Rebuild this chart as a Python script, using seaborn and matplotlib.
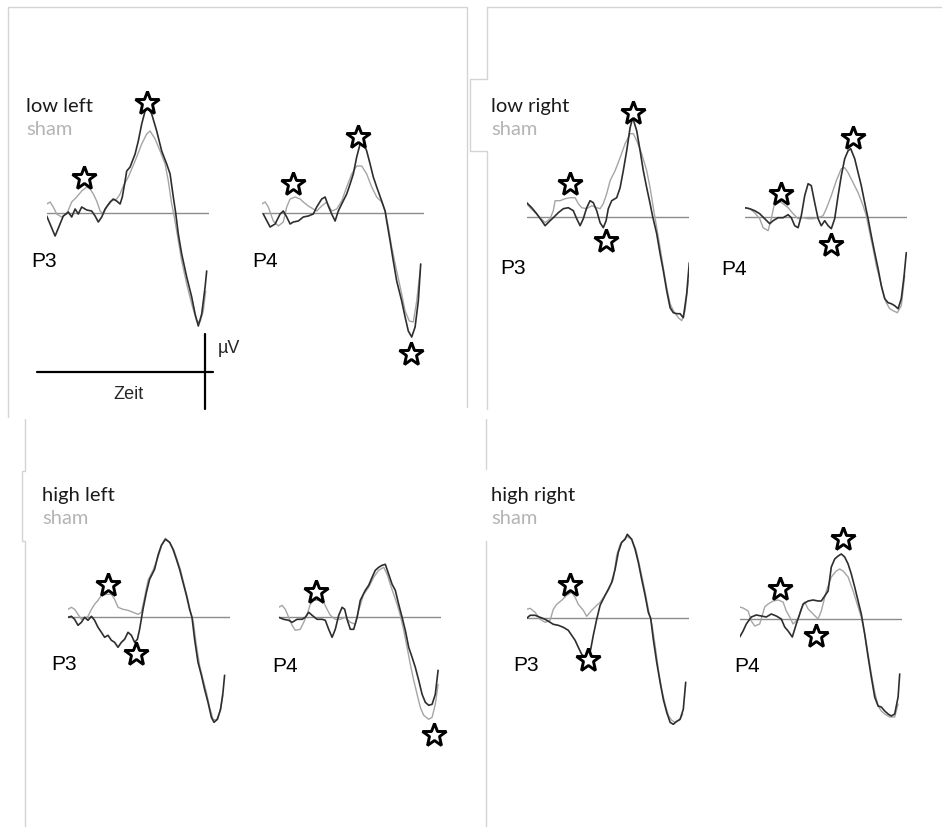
import matplotlib
matplotlib.use("Agg")
import matplotlib.pyplot as plt
import seaborn as sns
import pandas as pd
from matplotlib.lines import Line2D

# ---------------- data (time in ms, amplitude in µV) ----------------
conditions = ["low left", "low right", "high left", "high right"]
channels = ["P3", "P4"]

ll_p3_stim = [(-100,-0.3),(-58,-2.3),(-17,-0.3),(8,0.1),(25,-0.4),(42,0.4),(58,-0.1),(75,0.6),(100,0.3),(125,0.2),
              (142,-0.3),(158,-0.9),(175,-0.4),(192,0.4),(217,1.1),(233,1.4),(250,1.2),(267,0.9),(278,1.6),(292,3.2),
              (300,4.2),(317,4.6),(342,5.9),(358,7.2),(375,8.9),(392,10.2),(405,10.6),(425,9.9),(450,8.2),(475,6.2),
              (500,4.9),(517,3.9),(533,1.6),(545,0.0),(558,-2.1),(575,-4.1),(600,-6.4),(625,-8.4),(642,-10.1),(658,-11.3),
              (675,-10.1),(692,-7.4),(700,-5.8)]
ll_p3_sham = [(-100,0.9),(-83,1.1),(-67,0.6),(-50,-0.1),(-25,-0.4),(0,-0.1),(25,1.1),(50,1.6),(75,2.2),(100,2.6),
              (117,2.4),(133,1.9),(150,1.2),(167,0.2),(183,-0.1),(200,0.6),(225,1.2),(250,1.4),(267,1.9),(283,2.7),
              (308,3.6),(342,5.2),(375,6.9),(400,7.9),(417,8.2),(442,7.4),(467,6.2),(492,4.9),(508,3.2),(525,0.9),
              (538,-0.4),(555,-2.4),(575,-4.8),(600,-7.1),(625,-9.1),(650,-10.8),(667,-10.9),(683,-9.8),(695,-7.8)]
ll_p3_stars = [(88,3.5),(400,11.0)]

ll_p4_stim = [(-92,-0.1),(-58,-1.4),(-33,-1.1),(-8,-0.1),(8,0.2),(25,-0.4),(42,-1.1),(58,-0.9),(83,-0.8),(108,-0.4),
              (133,-0.3),(158,-0.1),(175,0.6),(200,1.4),(217,1.6),(233,0.7),(250,-0.1),(267,-0.8),(283,0.2),(300,0.9),
              (325,1.9),(342,2.9),(358,3.9),(375,5.6),(392,6.9),(408,7.1),(425,6.2),(442,4.9),(458,3.6),(475,2.6),
              (500,1.2),(517,0.2),(525,-0.8),(542,-2.8),(558,-4.8),(575,-6.8),(600,-8.8),(617,-10.4),(633,-11.8),(650,-12.4),
              (667,-11.4),(683,-8.8),(695,-5.1)]
ll_p4_sham = [(-100,0.9),(-83,1.1),(-67,0.6),(-42,-0.8),(-17,-1.3),(8,-0.9),(25,0.6),(42,1.4),(67,1.6),(92,1.4),
              (108,1.1),(133,0.7),(158,0.4),(175,0.2),(200,0.7),(225,1.1),(250,0.2),(275,0.4),(300,1.2),(325,2.6),
              (350,3.9),(375,4.7),(400,4.7),(425,3.9),(450,2.6),(475,1.6),(500,1.1),(517,0.2),(533,-1.4),(550,-3.4),
              (575,-5.8),(600,-8.1),(617,-9.8),(638,-10.8),(658,-10.9),(675,-8.8),(692,-5.8)]
ll_p4_stars = [(58,2.9),(383,7.6),(647,-14.1)]

lr_p3_stim = [(-100,1.4),(-75,0.9),(-50,0.3),(-25,-0.4),(-8,-0.9),(17,-0.4),(33,-0.1),(58,0.4),(83,0.8),(108,0.9),
              (133,0.6),(150,-0.2),(167,-0.9),(183,-0.2),(200,0.9),(217,1.6),(233,1.4),(250,0.6),(267,-0.6),(283,-1.1),
              (297,-0.4),(308,0.8),(325,1.6),(350,1.9),(367,2.9),(383,4.6),(400,6.6),(417,8.9),(430,9.9),(450,8.6),
              (467,6.6),(483,4.6),(500,2.9),(517,1.3),(530,0.0),(550,-1.7),(567,-3.7),(583,-5.4),(600,-7.4),(617,-9.1),
              (633,-9.6),(650,-9.7),(667,-9.7),(683,-10.1),(700,-7.7),(713,-4.6)]
lr_p3_sham = [(-100,1.3),(-83,0.9),(-58,0.4),(-33,-0.1),(-8,-0.6),(17,-0.2),(33,0.6),(42,1.6),(67,1.6),(92,1.8),
              (117,1.9),(142,1.9),(158,1.3),(175,0.9),(200,0.8),(225,1.1),(250,0.9),(267,0.8),(283,1.3),(300,2.3),
              (317,3.6),(342,4.6),(367,5.9),(392,7.3),(417,8.3),(433,8.3),(450,7.6),(475,6.3),(500,4.6),(517,2.9),
              (533,0.9),(550,-1.1),(567,-3.1),(583,-5.1),(600,-7.1),(617,-8.7),(633,-9.4),(658,-10.1),(675,-10.4),(692,-9.4),
              (708,-6.4)]
lr_p3_stars = [(117,3.3),(297,-2.4),(430,10.4)]

lr_p4_stim = [(-100,0.9),(-75,0.8),(-50,0.6),(-25,0.3),(0,-0.2),(25,-0.7),(42,-0.4),(67,-0.1),(92,-0.1),(117,0.2),
              (133,-0.1),(150,-0.9),(167,-1.1),(183,0.1),(200,2.1),(217,3.3),(233,3.1),(250,1.4),(267,-0.2),(283,-0.9),
              (300,-0.4),(317,-0.9),(333,-1.2),(350,-0.2),(367,2.1),(383,4.1),(400,5.8),(417,6.6),(430,6.8),(450,5.8),
              (467,4.4),(483,3.1),(500,1.4),(517,-0.2),(533,-1.9),(550,-3.6),(567,-5.2),(583,-6.9),(600,-8.2),(617,-8.6),
              (633,-8.7),(650,-8.9),(667,-9.2),(683,-8.2),(697,-5.9),(708,-3.6)]
lr_p4_sham = [(-100,0.9),(-75,0.8),(-50,0.4),(-25,-0.2),(-8,-1.1),(17,-1.4),(33,-0.2),(50,1.4),(67,1.6),(92,1.3),
              (117,0.9),(142,0.3),(167,-0.2),(192,-0.1),(217,-0.2),(242,-0.2),(267,-0.1),(292,0.1),(308,0.8),(333,2.1),
              (358,3.6),(383,4.8),(400,4.9),(417,4.4),(442,3.4),(467,2.4),(492,1.1),(508,0.1),(525,-1.6),(542,-3.2),
              (558,-4.9),(575,-6.2),(592,-7.6),(608,-8.6),(625,-9.2),(642,-9.4),(663,-9.6),(683,-8.9),(700,-5.9)]
lr_p4_stars = [(83,2.3),(330,-2.8),(442,7.9)]

hl_p3_stim = [(-100,0.0),(-83,0.1),(-67,-0.2),(-50,-0.8),(-33,-0.5),(-17,0.0),(0,-0.3),(17,0.1),(33,-0.3),(50,-1.0),
              (67,-1.5),(83,-2.0),(100,-1.8),(117,-2.3),(133,-2.5),(150,-3.0),(167,-2.5),(183,-2.2),(200,-1.5),(217,-1.8),
              (233,-2.5),(247,-2.2),(258,-1.2),(275,0.8),(292,2.5),(308,3.8),(333,4.8),(350,6.2),(367,7.2),(387,7.8),
              (408,7.5),(425,6.8),(442,5.8),(458,4.8),(475,3.5),(492,2.2),(508,0.8),(520,0.0),(533,-2.2),(550,-4.5),
              (567,-5.8),(583,-7.2),(600,-8.5),(617,-10.0),(630,-10.5),(647,-10.2),(663,-9.2),(675,-7.5),(683,-5.8)]
hl_p3_sham = [(-100,0.8),(-83,1.0),(-67,0.8),(-50,0.3),(-33,-0.2),(-17,-0.1),(0,0.1),(17,0.8),(33,1.3),(50,1.7),
              (67,2.2),(92,2.3),(117,2.3),(133,1.8),(150,1.0),(175,0.8),(200,0.7),(225,0.5),(250,0.3),(267,0.5),
              (283,2.0),(300,3.7),(325,4.7),(350,6.0),(370,7.3),(387,7.9),(408,7.5),(430,6.7),(447,5.7),(463,4.7),
              (480,3.3),(497,2.0),(513,0.5),(527,-0.5),(542,-2.8),(558,-4.8),(575,-6.2),(592,-7.5),(608,-9.0),(625,-10.2),
              (642,-10.3),(658,-9.5),(675,-7.8)]
hl_p3_stars = [(100,3.2),(242,-3.7)]

hl_p4_stim = [(-100,0.0),(-75,-0.2),(-50,-0.3),(-33,-0.5),(-8,-0.2),(17,-0.2),(33,0.0),(50,0.5),(67,0.2),(92,-0.2),
              (117,-0.2),(133,-0.3),(150,-1.2),(167,-2.0),(183,-1.2),(200,0.2),(217,1.0),(230,0.8),(242,-0.2),(258,-1.2),
              (275,-1.2),(292,0.0),(308,1.7),(333,2.7),(350,3.2),(367,4.0),(383,4.7),(400,5.0),(417,5.2),(433,5.3),
              (450,4.3),(467,3.3),(483,2.7),(500,1.3),(517,0.0),(533,-1.3),(550,-3.0),(567,-4.0),(583,-5.0),(600,-6.3),
              (617,-7.7),(633,-8.5),(650,-8.8),(667,-8.7),(683,-7.7),(697,-5.3)]
hl_p4_sham = [(-100,1.0),(-83,1.2),(-67,0.8),(-50,0.0),(-33,-0.8),(-17,-1.3),(8,-1.2),(25,-0.5),(42,0.3),(58,1.3),
              (75,1.7),(100,1.7),(125,1.5),(142,0.8),(158,0.2),(183,-0.2),(208,-0.2),(233,0.0),(258,-0.5),(283,-0.7),
              (300,0.7),(325,2.3),(350,3.0),(375,4.0),(400,4.7),(425,5.0),(442,4.3),(458,3.3),(475,2.3),(492,1.3),
              (508,0.2),(525,-1.3),(542,-3.0),(558,-4.7),(575,-6.3),(592,-7.7),(608,-9.0),(625,-9.8),(650,-10.2),(667,-10.0),
              (683,-8.7),(697,-6.7)]
hl_p4_stars = [(87,2.5),(675,-11.8)]

hr_p3_stim = [(-100,0.0),(-83,0.3),(-58,0.3),(-33,0.1),(-8,-0.1),(17,-0.4),(33,-0.6),(58,-0.7),(83,-0.9),(108,-1.2),
              (125,-1.7),(142,-2.2),(158,-2.9),(175,-3.6),(192,-3.9),(208,-3.9),(220,-3.1),(233,-1.7),(250,-0.1),(267,1.3),
              (292,2.3),(308,2.9),(325,3.6),(342,4.9),(358,6.6),(375,7.6),(392,7.9),(403,8.4),(425,7.9),(442,6.9),
              (458,5.6),(475,3.9),(492,2.3),(508,0.6),(520,0.0),(533,-2.1),(550,-4.4),(567,-6.4),(583,-8.1),(600,-9.4),
              (617,-10.4),(633,-10.6),(650,-10.3),(667,-10.1),(683,-9.1),(695,-6.4)]
hr_p3_sham = [(-100,0.9),(-83,1.0),(-58,0.6),(-33,-0.1),(-8,-0.4),(17,-0.2),(33,0.9),(50,1.4),(75,1.8),(100,2.3),
              (125,2.6),(142,2.1),(158,1.4),(183,0.8),(200,0.2),(225,0.8),(250,1.3),(267,1.6),(292,2.3),(308,2.8),
              (333,3.9),(350,6.3),(367,7.4),(383,7.8),(400,8.2),(425,7.9),(447,6.8),(463,5.4),(480,3.8),(497,2.1),
              (513,0.4),(527,-0.7),(542,-2.7),(558,-5.1),(575,-7.1),(592,-8.6),(608,-9.7),(625,-10.2),(642,-10.4),(663,-10.2),
              (680,-9.6)]
hr_p3_stars = [(117,3.3),(208,-4.2)]

hr_p4_stim = [(-100,-1.8),(-83,-1.2),(-67,-0.5),(-42,0.2),(-17,0.4),(8,0.3),(33,0.2),(58,0.5),(83,0.3),(108,0.0),
              (125,-0.8),(142,-1.2),(163,-1.8),(183,-0.5),(200,0.5),(217,1.5),(242,1.8),(267,1.9),(292,1.8),(308,1.8),
              (325,2.3),(342,2.8),(358,5.2),(375,6.0),(392,6.3),(408,6.5),(425,6.2),(442,5.5),(458,4.5),(475,3.2),
              (492,1.8),(508,0.5),(525,-1.5),(542,-3.8),(558,-5.8),(575,-7.8),(592,-8.7),(608,-8.8),(625,-9.2),(642,-9.5),
              (658,-9.7),(675,-9.5),(692,-7.8),(700,-5.5)]
hr_p4_sham = [(-100,1.2),(-83,1.1),(-58,0.8),(-42,-0.2),(-25,-0.7),(0,-0.5),(25,1.2),(42,1.5),(67,1.8),(92,1.9),
              (117,1.7),(133,0.8),(150,0.2),(167,-0.5),(192,0.0),(208,1.0),(225,1.7),(242,1.0),(267,0.5),(292,0.0),
              (308,0.8),(333,2.8),(358,4.2),(383,4.8),(400,5.0),(417,4.8),(442,4.2),(467,2.8),(492,1.2),(508,0.2),
              (525,-1.5),(542,-3.5),(558,-5.5),(575,-7.3),(592,-8.7),(608,-9.2),(625,-9.5),(650,-9.8),(675,-9.8),(692,-8.5)]
hr_p4_stars = [(100,3.0),(283,-1.7),(417,8.0)]

stim_series = [ll_p3_stim, ll_p4_stim, lr_p3_stim, lr_p4_stim, hl_p3_stim, hl_p4_stim, hr_p3_stim, hr_p4_stim]
sham_series = [ll_p3_sham, ll_p4_sham, lr_p3_sham, lr_p4_sham, hl_p3_sham, hl_p4_sham, hr_p3_sham, hr_p4_sham]
star_series = [ll_p3_stars, ll_p4_stars, lr_p3_stars, lr_p4_stars, hl_p3_stars, hl_p4_stars, hr_p3_stars, hr_p4_stars]

# ---------------- layout (pixels) ----------------
W, H = 942, 828
origins = [(46.7, 214), (261.7, 214), (526.7, 217.7), (744.7, 217.7),
           (68, 618.3), (278.7, 618.3), (526.7, 619.3), (739.7, 620)]
chan_pos = [(31, 267), (252, 267), (500, 274), (721, 275),
            (51, 670), (272, 672), (513, 671), (734, 672)]
cond_pos = [(26, 112), (491, 112), (42, 501), (491, 501)]

sns.set_theme(style="white")
plt.rcParams["font.family"] = ["Liberation Sans", "DejaVu Sans"]

fig = plt.figure(figsize=(W / 100, H / 100), dpi=100)
fig.patch.set_facecolor("white")

XMIN, XMAX = -100, 710
YMIN, YMAX = -15, 12
PX_PER_MS = 0.2
PX_PER_UV = 10

def fx(x):
    return x / W

def fy(y):
    return 1 - y / H

for i in range(8):
    x0, yb = origins[i]
    wpx = (XMAX - XMIN) * PX_PER_MS
    top = yb - YMAX * PX_PER_UV
    hpx = (YMAX - YMIN) * PX_PER_UV
    ax = fig.add_axes([fx(x0), fy(top + hpx), wpx / W, hpx / H])
    ax.set_xlim(XMIN, XMAX)
    ax.set_ylim(YMIN, YMAX)
    ax.axis("off")
    ax.axhline(0, color="#8c8c8c", lw=1.0, zorder=1)
    t_s, v_s = zip(*sham_series[i])
    t_b, v_b = zip(*stim_series[i])
    sns.lineplot(x=list(t_s), y=list(v_s), ax=ax, color="#a5a5a5", lw=1.0,
                 estimator=None, sort=False, zorder=2)
    sns.lineplot(x=list(t_b), y=list(v_b), ax=ax, color="#2e2e2e", lw=1.2,
                 estimator=None, sort=False, zorder=3)
    st_t, st_v = zip(*star_series[i])
    ax.plot(list(st_t), list(st_v), linestyle="none", marker="*", ms=18,
            mfc="white", mec="black", mew=2.1, clip_on=False, zorder=5)
    cx, cy = chan_pos[i]
    fig.text(fx(cx), fy(cy), channels[i % 2], fontsize=15, color="black",
             va="baseline", ha="left", family=["Liberation Sans", "DejaVu Sans"])

for j, cond in enumerate(conditions):
    x, y = cond_pos[j]
    fig.text(fx(x), fy(y), cond, fontsize=14.5, color="#1a1a1a", va="baseline",
             family=["Lato", "DejaVu Sans"])
    fig.text(fx(x), fy(y + 23), "sham", fontsize=14.5, color="#b4b4b4", va="baseline",
             family=["Lato", "DejaVu Sans"])

# scale bar (time / µV)
fig.add_artist(Line2D([fx(37), fx(213)], [fy(373), fy(373)], color="black", lw=1.6))
fig.add_artist(Line2D([fx(205), fx(205)], [fy(335), fy(410)], color="black", lw=1.6))
fig.text(fx(218), fy(353), "µV", fontsize=13, va="baseline", ha="left")
fig.text(fx(129), fy(399), "Zeit", fontsize=13, va="baseline", ha="center")

# faint panel frames
frame = "#d4d4d4"
segs = [
    [(8, 8), (467, 8)], [(8, 8), (8, 418)], [(467, 8), (467, 408)],
    [(487, 8), (942, 8)], [(487, 8), (487, 80), (470, 80), (470, 152), (487, 152), (487, 410)],
    [(25, 420), (25, 472), (22, 472), (22, 542), (25, 542), (25, 828)],
    [(486, 420), (486, 470)], [(486, 542), (486, 828)],
]
for seg in segs:
    xs = [fx(p[0]) for p in seg]
    ys = [fy(p[1]) for p in seg]
    fig.add_artist(Line2D(xs, ys, color=frame, lw=1.0))

fig.savefig("out.png", dpi=100, facecolor="white")
